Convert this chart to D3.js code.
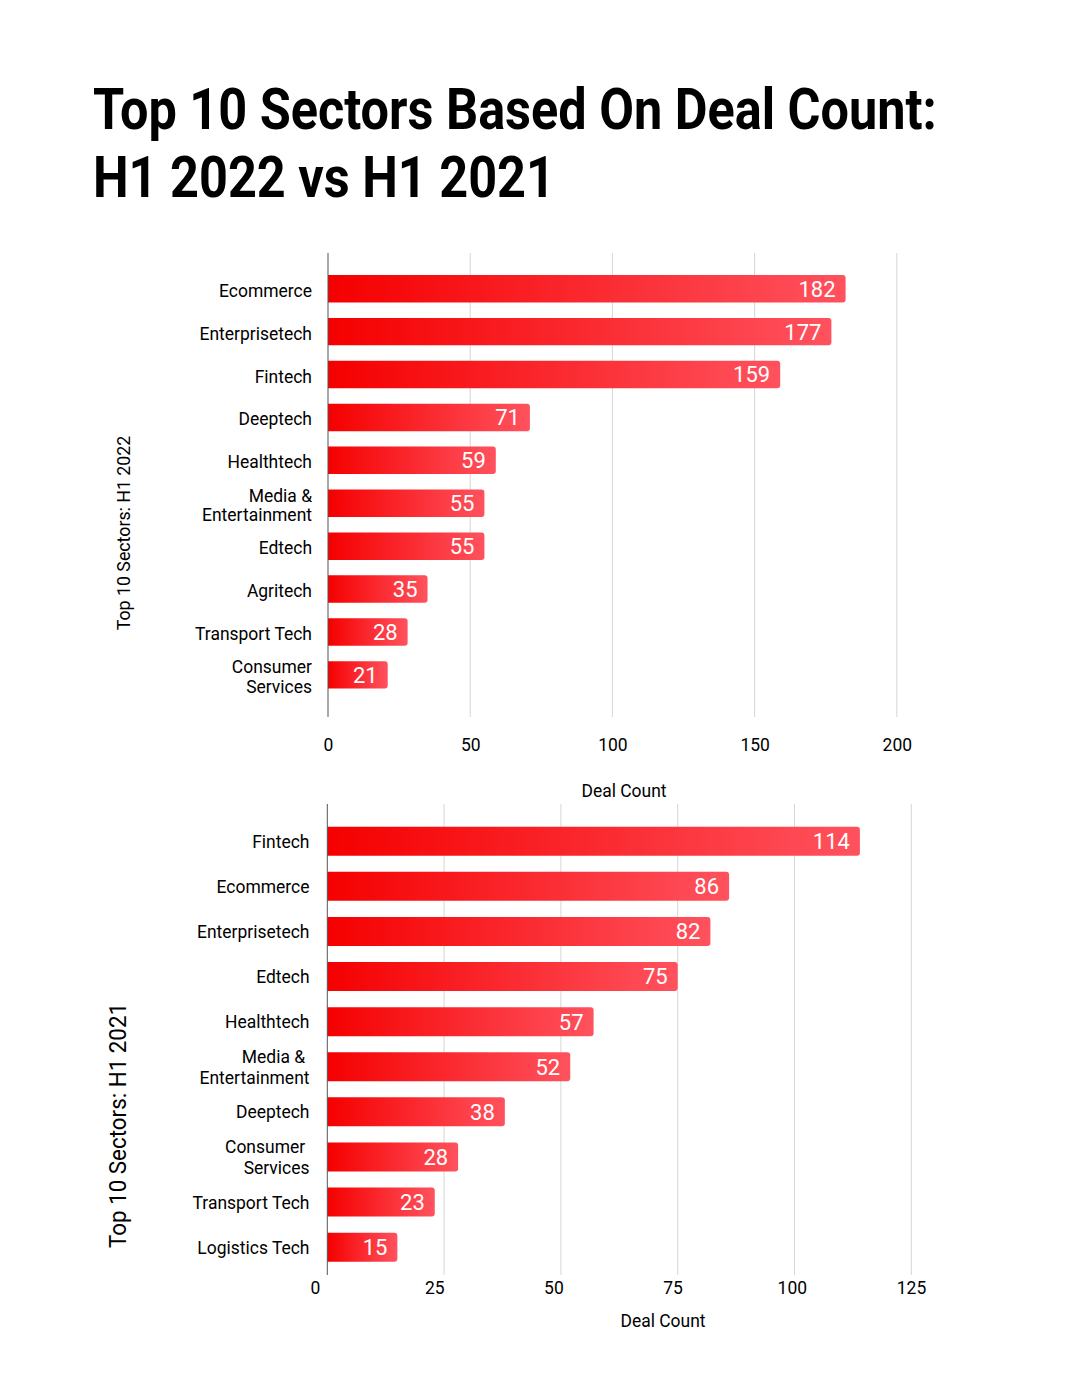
<!DOCTYPE html>
<html><head><meta charset="utf-8">
<script src="https://cdn.jsdelivr.net/npm/d3@7"></script>
<style>
body{margin:0;background:#fff;}
svg{display:block;font-family:Roboto, "Noto Sans", sans-serif;}
</style></head>
<body>
<svg id="c" width="1081" height="1400"></svg>
<script>
// ---- data ----
const titleLines = ["Top 10 Sectors Based On Deal Count:", "H1 2022 vs H1 2021"];
const sectors2022 = ["Ecommerce","Enterprisetech","Fintech","Deeptech","Healthtech","Media &\nEntertainment","Edtech","Agritech","Transport Tech","Consumer\nServices"];
const deals2022 = [182,177,159,71,59,55,55,35,28,21];
const ticks2022 = [0,50,100,150,200];
const sectors2021 = ["Fintech","Ecommerce","Enterprisetech","Edtech","Healthtech","Media & \nEntertainment","Deeptech","Consumer \nServices","Transport Tech","Logistics Tech"];
const deals2021 = [114,86,82,75,57,52,38,28,23,15];
const ticks2021 = [0,25,50,75,100,125];
const xTitle = "Deal Count";
const yTitle2022 = "Top 10 Sectors: H1 2022";
const yTitle2021 = "Top 10 Sectors: H1 2021";

const svg = d3.select("#c");
const COND = 0.945;

// gradient
const defs = svg.append("defs");
const g = defs.append("linearGradient").attr("id","barGrad").attr("x1","0").attr("x2","1").attr("y1","0").attr("y2","0");
g.append("stop").attr("offset","0%").attr("stop-color","#f50000");
g.append("stop").attr("offset","100%").attr("stop-color","#ff525e");

// title
const tg = svg.append("g");
const t1 = tg.append("text").attr("font-weight",700).attr("font-size",57).attr("fill","#000").text(titleLines[0]);
const len1 = t1.node().getComputedTextLength();
const sx = 844/len1;
t1.attr("transform",`translate(93,129) scale(${sx},1)`);
tg.append("text").attr("font-weight",700).attr("font-size",57).attr("fill","#000").text(titleLines[1])
  .attr("transform",`translate(93,197) scale(${sx},1)`);

function condText(sel, x, y, anchor, size, txt){
  return sel.append("text").attr("transform",`translate(${x},${y}) scale(${COND},1)`)
    .attr("text-anchor",anchor).attr("font-size",size).attr("fill","#000")
    .style("white-space","pre").text(txt);
}

function chart(cfg){
  const {cats, vals, ticks, x0, x1, yTop, yBot, bandRange, pInner, pOuter, labelRight, lineH, labelShift, tickY, xTitleX, xTitleY, yTitle, yTitleX, yTitleSize, labelScaleRange} = cfg;
  const x = d3.scaleLinear().domain([0, ticks[ticks.length-1]]).range([x0, x1]);
  const y = d3.scaleBand().domain(cats).range(bandRange).paddingInner(pInner).paddingOuter(pOuter);
  const G = svg.append("g");
  // grid
  G.selectAll(".grid").data(ticks.slice(1)).join("line")
    .attr("x1",d=>x(d)).attr("x2",d=>x(d)).attr("y1",yTop).attr("y2",yBot)
    .attr("stroke","#d6d6d6").attr("stroke-width",1);
  // bars
  G.selectAll(".bar").data(cats).join("path")
    .attr("d",(d,i)=>{
      const xa=x(0), xb=x(vals[i]), ya=y(d), h=y.bandwidth(), r=3;
      return `M${xa},${ya}H${xb-r}Q${xb},${ya} ${xb},${ya+r}V${ya+h-r}Q${xb},${ya+h} ${xb-r},${ya+h}H${xa}Z`;
    })
    .attr("fill","url(#barGrad)");
  // axis line
  G.append("line").attr("x1",x(0)).attr("x2",x(0)).attr("y1",yTop).attr("y2",yBot)
    .attr("stroke","#555").attr("stroke-width",1);
  // value labels
  G.selectAll(".val").data(cats).join("text")
    .attr("x",(d,i)=>x(vals[i])-10).attr("y",d=>y(d)+y.bandwidth()/2).attr("dy","0.36em")
    .attr("text-anchor","end").attr("font-size",22).attr("fill","#fff")
    .text((d,i)=>vals[i]);
  // category labels
  cats.forEach(c=>{
    const lines = c.split("\n");
    const cy = y(c)+y.bandwidth()/2 + labelShift;
    lines.forEach((ln,j)=>{
      const yy = cy + (j-(lines.length-1)/2)*lineH + 6.5;
      condText(G, labelRight, yy, "end", 18.5, ln);
    });
  });
  // x axis tick labels
  const xl = labelScaleRange ? d3.scaleLinear().domain(x.domain()).range(labelScaleRange) : x;
  const ax = G.append("g").attr("transform",`translate(0,${tickY})`)
    .call(d3.axisBottom(xl).tickValues(ticks).tickSize(0).tickPadding(0));
  ax.select(".domain").remove();
  ax.selectAll(".tick text").attr("font-family","Roboto").attr("font-size",18.5).attr("fill","#000")
    .attr("dy",0).attr("y",0).attr("transform",`scale(${COND},1)`);
  // x title
  condText(G, xTitleX, xTitleY, "middle", 18.5, xTitle);
  // y title
  G.append("text").attr("transform",`translate(${yTitleX},${(yTop+yBot)/2 + cfg.yTitleShift}) rotate(-90) scale(${COND},1)`)
    .attr("text-anchor","middle").attr("font-size",yTitleSize).attr("fill","#000").text(yTitle);
}

chart({cats:sectors2022, vals:deals2022, ticks:ticks2022, x0:328, x1:896.8, yTop:253, yBot:717,
  bandRange:[249.7,713.9], pInner:0.36, pOuter:0.59, labelRight:312, lineH:19.5, labelShift:1.5, tickY:751,
  xTitleX:624, xTitleY:797, yTitle:yTitle2022, yTitleX:130, yTitleSize:18.8, yTitleShift:48});

chart({cats:sectors2021, vals:deals2021, ticks:ticks2021, x0:327.3, x1:911.3, yTop:804, yBot:1275,
  bandRange:[808.7,1279.7], pInner:0.357, pOuter:0.4, labelRight:309.5, lineH:21.5, labelShift:0, tickY:1294,
  xTitleX:663, xTitleY:1327, yTitle:yTitle2021, yTitleX:126, yTitleSize:23.7, yTitleShift:86,
  labelScaleRange:[315,911]});
</script>
</body></html>
